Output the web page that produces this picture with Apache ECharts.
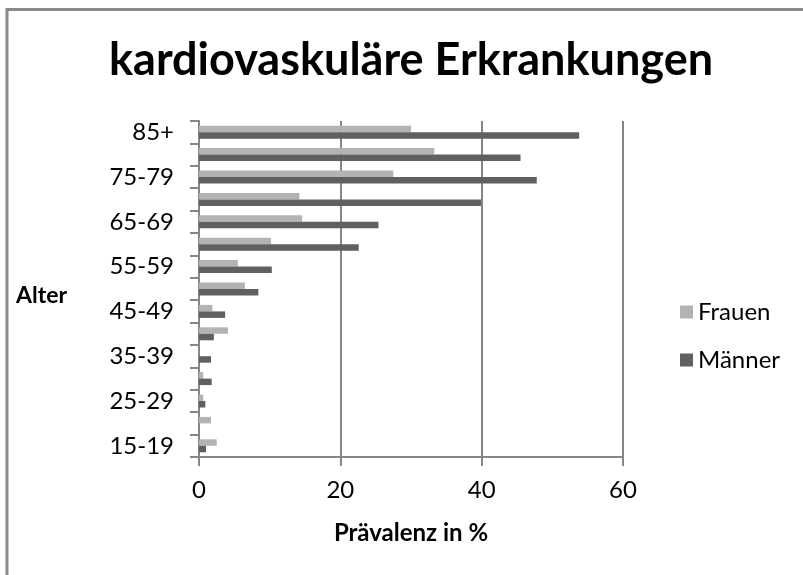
<!DOCTYPE html>
<html>
<head>
<meta charset="utf-8">
<script src="https://cdn.jsdelivr.net/npm/echarts@6/dist/echarts.min.js"></script>
<style>
  html, body { margin: 0; padding: 0; background: #fff; }
  #chart { width: 803px; height: 575px; }
</style>
</head>
<body>
<div id="chart"></div>
<script>
// Altersgruppen (von unten nach oben)
var ages = ['15-19', '20-24', '25-29', '30-34', '35-39', '40-44', '45-49', '50-54',
            '55-59', '60-64', '65-69', '70-74', '75-79', '80-84', '85+'];
// Prävalenz in %
var frauen  = [2.5, 1.7, 0.6, 0.6, 0, 4.1, 1.9, 6.5, 5.5, 10.2, 14.6, 14.2, 27.5, 33.3, 30.0];
var maenner = [1.0, 0, 0.9, 1.8, 1.7, 2.1, 3.7, 8.4, 10.3, 22.6, 25.4, 39.9, 47.8, 45.5, 53.8];
var xTicks = [0, 20, 40, 60];

var FONT = 'Lato';
var AXIS_COLOR = '#868686';

var myChart = echarts.init(document.getElementById('chart'));

myChart.setOption({
    animation: false,
    title: {
        text: 'kardiovaskuläre Erkrankungen',
        left: 104,
        top: 33,
        textStyle: { fontFamily: FONT, fontSize: 45, fontWeight: 'bold', color: '#000' }
    },
    graphic: [
        {
            type: 'rect',
            shape: { x: 7, y: 9.5, width: 1000, height: 1000 },
            style: { fill: 'none', stroke: '#8a8a8a', lineWidth: 3 },
            silent: true
        },
        {
            type: 'text',
            left: 16,
            top: 284,
            style: { text: 'Alter', fontFamily: FONT, fontSize: 23, fontWeight: 'bold', fill: '#000' }
        }
    ],
    legend: {
        orient: 'vertical',
        left: 675,
        top: 295,
        itemWidth: 13,
        itemHeight: 13,
        itemGap: 24,
        icon: 'rect',
        data: ['Frauen', 'Männer'],
        textStyle: { fontFamily: FONT, fontSize: 24, color: '#000' }
    },
    grid: {
        left: 199,
        right: 180,
        top: 121,
        bottom: 118
    },
    xAxis: {
        type: 'value',
        min: xTicks[0],
        max: xTicks[xTicks.length - 1],
        interval: 20,
        name: 'Prävalenz in %',
        nameLocation: 'middle',
        nameGap: 64,
        nameTextStyle: { fontFamily: FONT, fontSize: 24, fontWeight: 'bold', color: '#000' },
        axisLine: { show: true, lineStyle: { color: AXIS_COLOR, width: 2 } },
        axisTick: { show: true, length: 9, lineStyle: { color: AXIS_COLOR, width: 2 } },
        axisLabel: { margin: 21, fontFamily: FONT, fontSize: 24, color: '#000' },
        splitLine: { show: true, lineStyle: { color: AXIS_COLOR, width: 2 } }
    },
    yAxis: {
        type: 'category',
        data: ages,
        axisLine: { show: true, lineStyle: { color: AXIS_COLOR, width: 2 } },
        axisTick: { show: true, interval: 0, length: 9, lineStyle: { color: AXIS_COLOR, width: 2 } },
        axisLabel: { interval: 1, margin: 25, fontFamily: FONT, fontSize: 24, color: '#000' },
        splitLine: { show: false }
    },
    series: [
        {
            name: 'Frauen',
            type: 'bar',
            data: frauen,
            barGap: '0%',
            barCategoryGap: '42%',
            itemStyle: { color: '#b3b3b3' }
        },
        {
            name: 'Männer',
            type: 'bar',
            data: maenner,
            barGap: '0%',
            barCategoryGap: '42%',
            itemStyle: { color: '#606060' }
        }
    ]
});
</script>
</body>
</html>
